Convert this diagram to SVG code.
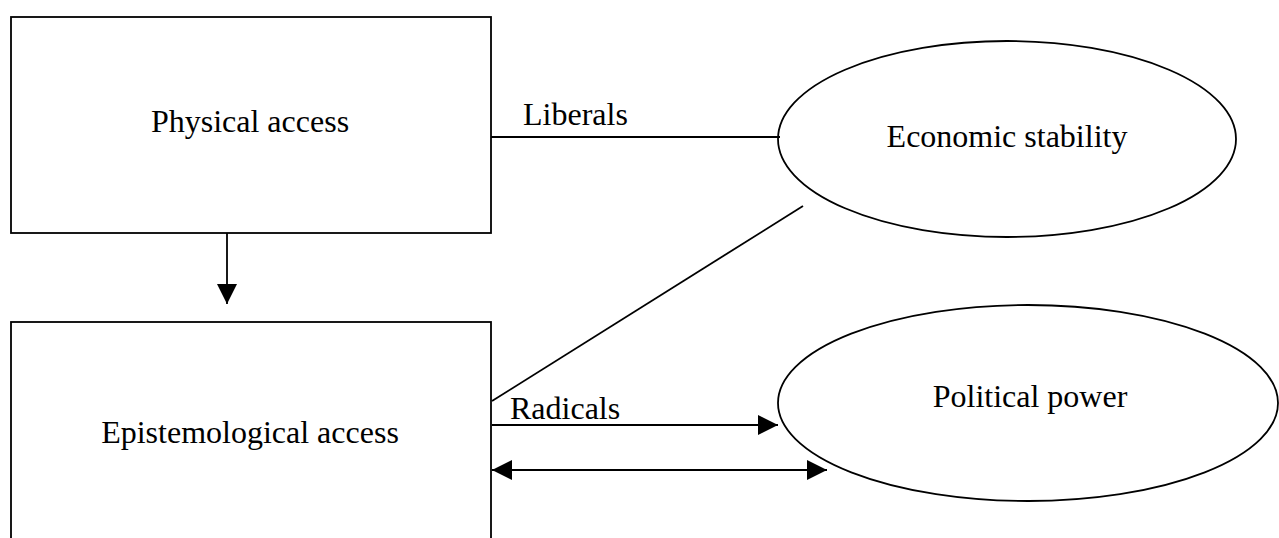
<svg xmlns="http://www.w3.org/2000/svg" width="1279" height="538" viewBox="0 0 1279 538">
<style>
.shape{fill:#fff;stroke:#000;stroke-width:1.8}
.lbl{font-family:"Liberation Serif","Times New Roman",serif;font-size:32px;fill:#000;text-anchor:middle}
.elbl{font-family:"Liberation Serif","Times New Roman",serif;font-size:32px;fill:#000}
.conn{stroke:#000;stroke-width:1.8;fill:none}
</style>
<defs>
<marker id="ah" markerWidth="20" markerHeight="20" viewBox="0 0 20 20" refX="20" refY="10" orient="auto-start-reverse" markerUnits="userSpaceOnUse">
<path d="M0,0 L20,10 L0,20 Z" fill="#000"/>
</marker>
</defs>
<rect width="1279" height="538" fill="#fff"/>
<g id="physical-access">
<rect class="shape" x="11" y="17" width="480" height="216"/>
<text class="lbl" x="250" y="132">Physical access</text>
</g>
<g id="epistemological-access">
<rect class="shape" x="11" y="322" width="480" height="240"/>
<text class="lbl" x="250" y="443">Epistemological access</text>
</g>
<g id="economic-stability">
<ellipse class="shape" cx="1007" cy="139" rx="229" ry="98"/>
<text class="lbl" x="1007" y="147">Economic stability</text>
</g>
<g id="political-power">
<ellipse class="shape" cx="1028" cy="403" rx="250" ry="98"/>
<text class="lbl" x="1030" y="407">Political power</text>
</g>
<g id="connectors">
<line class="conn" x1="227" y1="233" x2="227" y2="304" marker-end="url(#ah)"/>
<line class="conn" x1="491" y1="137" x2="780" y2="137"/>
<text class="elbl" x="523" y="125">Liberals</text>
<line class="conn" x1="492" y1="401" x2="803" y2="206"/>
<line class="conn" x1="492" y1="425" x2="778" y2="425" marker-end="url(#ah)"/>
<text class="elbl" x="510" y="419">Radicals</text>
<line class="conn" x1="492" y1="470" x2="827" y2="470" marker-start="url(#ah)" marker-end="url(#ah)"/>
<line class="conn" x1="611" y1="470" x2="731" y2="470" stroke-width="2.4"/>
</g>
</svg>
